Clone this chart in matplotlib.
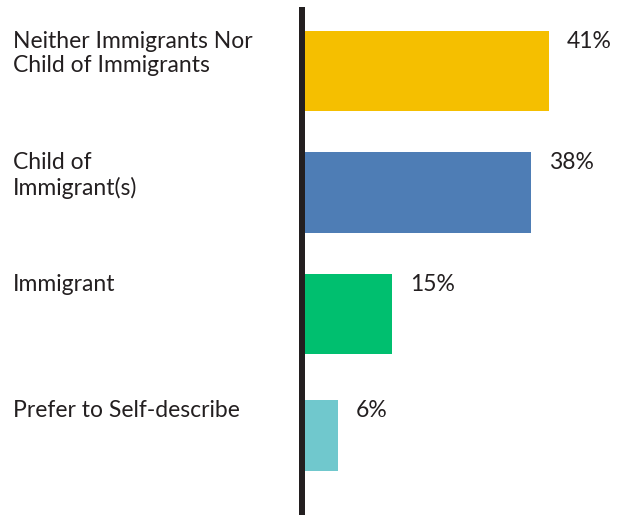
import matplotlib
matplotlib.use("Agg")
import matplotlib.pyplot as plt
from matplotlib.transforms import blended_transform_factory

categories = ["Neither Immigrants Nor\nChild of Immigrants",
              "Child of\nImmigrant(s)",
              "Immigrant",
              "Prefer to Self-describe"]
values = [41, 38, 15, 6]
value_labels = ["41%", "38%", "15%", "6%"]
colors = ["#F5BF00", "#4E7DB5", "#00BF6F", "#70C8CD"]
bar_heights = [0.66, 0.66, 0.66, 0.58]

DPI = 100
W, H = 619, 515
plt.rcParams["font.family"] = ["Lato", "DejaVu Sans"]
text_color = "#231F20"

fig = plt.figure(figsize=(W / DPI, H / DPI), dpi=DPI)
ax_left = 302
ax_top = 10
ax = fig.add_axes([ax_left / W, 0, (W - ax_left) / W, (H - ax_top) / H])

ypos = list(range(len(values)))
ax.barh(ypos, values, height=bar_heights, color=colors, left=0, zorder=1)

ax.set_xlim(0, (W - ax_left) / 6.02)
ax.set_ylim(3.654, -0.502)

for s in ["top", "right", "bottom"]:
    ax.spines[s].set_visible(False)
ax.spines["left"].set_linewidth(6 * 72 / DPI)
ax.spines["left"].set_color(text_color)
ax.spines["left"].set_zorder(3)
ax.set_xticks([])
ax.set_yticks([])

trans = blended_transform_factory(fig.transFigure, ax.transData)
for y, cat, v, lab, h in zip(ypos, categories, values, value_labels, bar_heights):
    top = y - h / 2
    ax.text(13 / W, top, cat, transform=trans, ha="left", va="top",
            fontsize=16.5, color=text_color, linespacing=1.2)
    ax.annotate(lab, xy=(v, top), xytext=(18 * 72 / DPI, 0),
                textcoords="offset points", ha="left", va="top",
                fontsize=16.5, color=text_color)

fig.savefig("out.png", dpi=DPI)
